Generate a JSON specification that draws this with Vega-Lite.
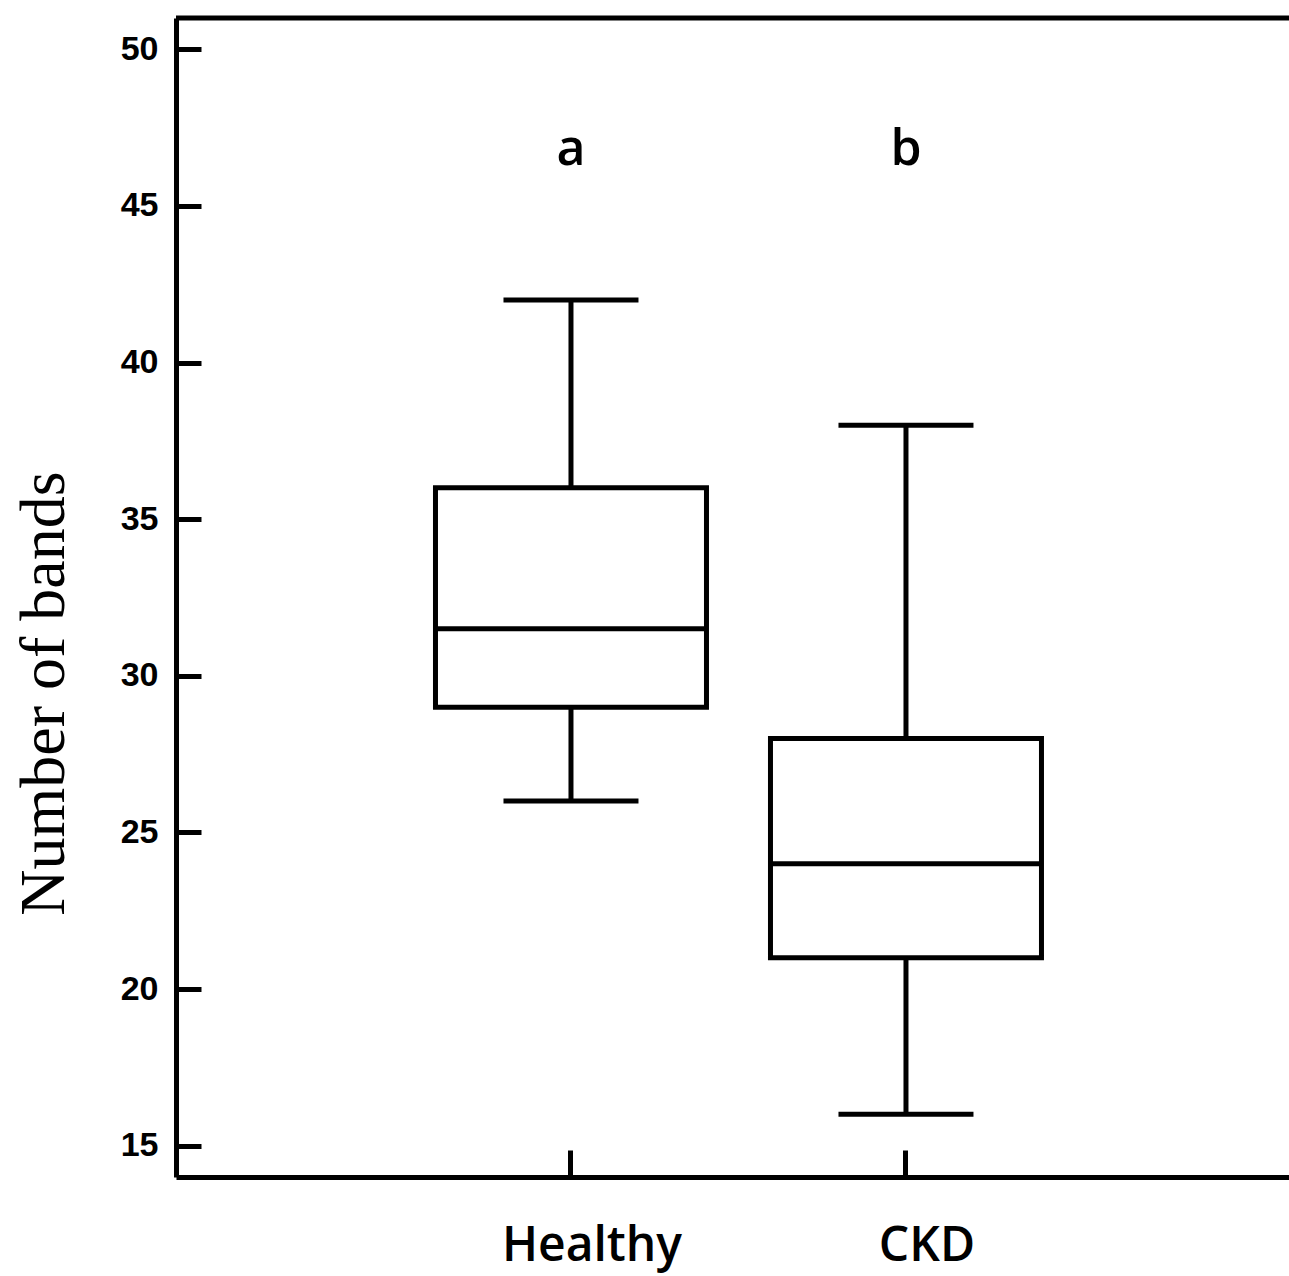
{
  "$schema": "https://vega.github.io/schema/vega-lite/v6.json",
  "width": 1113,
  "height": 1159,
  "autosize": "none",
  "padding": {"left": 176, "top": 18, "right": 0, "bottom": 99},
  "background": "white",
  "config": {
    "view": {"stroke": null},
    "axisY": {"tickSize": -25, "tickWidth": 5,
      "tickColor": "black", "domainColor": "black", "domainWidth": 5, "labelFont": "Liberation Sans",
      "labelFontWeight": "bold", "labelFontSize": 34, "labelColor": "black", "labelPadding": 43, "grid": false,
      "titleFont": "Liberation Serif", "titleFontSize": 64, "titleFontWeight": "normal", "titleColor": "black",
      "titleX": -132, "titleY": 675, "titleAngle": -90, "titleAlign": "center", "titleBaseline": "middle"},
    "axisX": {"tickSize": -27, "tickWidth": 5, "tickColor": "black",
      "domainColor": "black", "domainWidth": 5, "labelFont": "Open Sans", "labelFontSize": 48, "labelFontWeight": 600,
      "labelColor": "black", "labelPadding": 72, "labelOffset": 21, "labelLimit": 1000, "labelOverlap": false,
      "labelAngle": 0, "grid": false}
  },
  "datasets": {
    "boxes": [
      {"group": "Healthy", "lower": 26, "q1": 29, "median": 31.5, "q3": 36, "upper": 42},
      {"group": "CKD", "lower": 16, "q1": 21, "median": 24, "q3": 28, "upper": 38}
    ],
    "letters": [
      {"group": "Healthy", "letter": "a"},
      {"group": "CKD", "letter": "b"}
    ]
  },
  "layer": [
    {
      "data": {"name": "boxes"},
      "mark": {"type": "rule", "color": "black", "strokeWidth": 5},
      "encoding": {
        "x": {"field": "group", "type": "nominal", "sort": null, "title": null,
          "scale": {"type": "band", "domain": ["Healthy", "CKD"], "paddingInner": 0, "paddingOuter": 0.6612, "align": 0.5135},
          "axis": {"title": null, "values": ["Healthy", "CKD"]}},
        "y": {"field": "lower", "type": "quantitative", "title": "Number of bands",
          "scale": {"domain": [14, 51], "nice": false, "zero": false},
          "axis": {"title": "Number of bands", "values": [15, 20, 25, 30, 35, 40, 45, 50]}},
        "y2": {"field": "upper"}
      }
    },
    {
      "data": {"name": "boxes"},
      "mark": {"type": "bar", "fill": "white", "stroke": "black", "strokeWidth": 5, "size": 271, "opacity": 1},
      "encoding": {
        "x": {"field": "group", "type": "nominal", "sort": null, "title": null,
          "scale": {"type": "band", "domain": ["Healthy", "CKD"], "paddingInner": 0, "paddingOuter": 0.6612, "align": 0.5135},
          "axis": {"title": null, "values": ["Healthy", "CKD"]}},
        "y": {"field": "q1", "type": "quantitative", "title": "Number of bands",
          "scale": {"domain": [14, 51], "nice": false, "zero": false},
          "axis": {"title": "Number of bands", "values": [15, 20, 25, 30, 35, 40, 45, 50]}},
        "y2": {"field": "q3"}
      }
    },
    {
      "data": {"name": "boxes"},
      "mark": {"type": "tick", "color": "black", "size": 271, "thickness": 5, "opacity": 1},
      "encoding": {
        "x": {"field": "group", "type": "nominal", "sort": null, "title": null,
          "scale": {"type": "band", "domain": ["Healthy", "CKD"], "paddingInner": 0, "paddingOuter": 0.6612, "align": 0.5135},
          "axis": {"title": null, "values": ["Healthy", "CKD"]}},
        "y": {"field": "median", "type": "quantitative", "title": "Number of bands",
          "scale": {"domain": [14, 51], "nice": false, "zero": false},
          "axis": {"title": "Number of bands", "values": [15, 20, 25, 30, 35, 40, 45, 50]}}
      }
    },
    {
      "data": {"name": "boxes"},
      "mark": {"type": "tick", "color": "black", "size": 135, "thickness": 5, "opacity": 1},
      "encoding": {
        "x": {"field": "group", "type": "nominal", "sort": null, "title": null,
          "scale": {"type": "band", "domain": ["Healthy", "CKD"], "paddingInner": 0, "paddingOuter": 0.6612, "align": 0.5135},
          "axis": {"title": null, "values": ["Healthy", "CKD"]}},
        "y": {"field": "lower", "type": "quantitative", "title": "Number of bands",
          "scale": {"domain": [14, 51], "nice": false, "zero": false},
          "axis": {"title": "Number of bands", "values": [15, 20, 25, 30, 35, 40, 45, 50]}}
      }
    },
    {
      "data": {"name": "boxes"},
      "mark": {"type": "tick", "color": "black", "size": 135, "thickness": 5, "opacity": 1},
      "encoding": {
        "x": {"field": "group", "type": "nominal", "sort": null, "title": null,
          "scale": {"type": "band", "domain": ["Healthy", "CKD"], "paddingInner": 0, "paddingOuter": 0.6612, "align": 0.5135},
          "axis": {"title": null, "values": ["Healthy", "CKD"]}},
        "y": {"field": "upper", "type": "quantitative", "title": "Number of bands",
          "scale": {"domain": [14, 51], "nice": false, "zero": false},
          "axis": {"title": "Number of bands", "values": [15, 20, 25, 30, 35, 40, 45, 50]}}
      }
    },
    {
      "data": {"name": "letters"},
      "mark": {"type": "text", "font": "Open Sans", "fontSize": 50, "fontWeight": 600, "color": "black", "baseline": "alphabetic", "align": "center"},
      "encoding": {
        "x": {"field": "group", "type": "nominal", "sort": null, "title": null,
          "scale": {"type": "band", "domain": ["Healthy", "CKD"], "paddingInner": 0, "paddingOuter": 0.6612, "align": 0.5135},
          "axis": {"title": null, "values": ["Healthy", "CKD"]}},
        "y": {"datum": 46.3, "type": "quantitative", "title": "Number of bands",
          "scale": {"domain": [14, 51], "nice": false, "zero": false},
          "axis": {"title": "Number of bands", "values": [15, 20, 25, 30, 35, 40, 45, 50]}},
        "text": {"field": "letter"}
      }
    },
    {
      "data": {"values": [{}]},
      "mark": {"type": "rule", "color": "black", "strokeWidth": 5},
      "encoding": {
        "y": {"datum": 51, "type": "quantitative", "title": "Number of bands",
          "scale": {"domain": [14, 51], "nice": false, "zero": false},
          "axis": {"title": "Number of bands", "values": [15, 20, 25, 30, 35, 40, 45, 50]}}
      }
    }
  ]
}
